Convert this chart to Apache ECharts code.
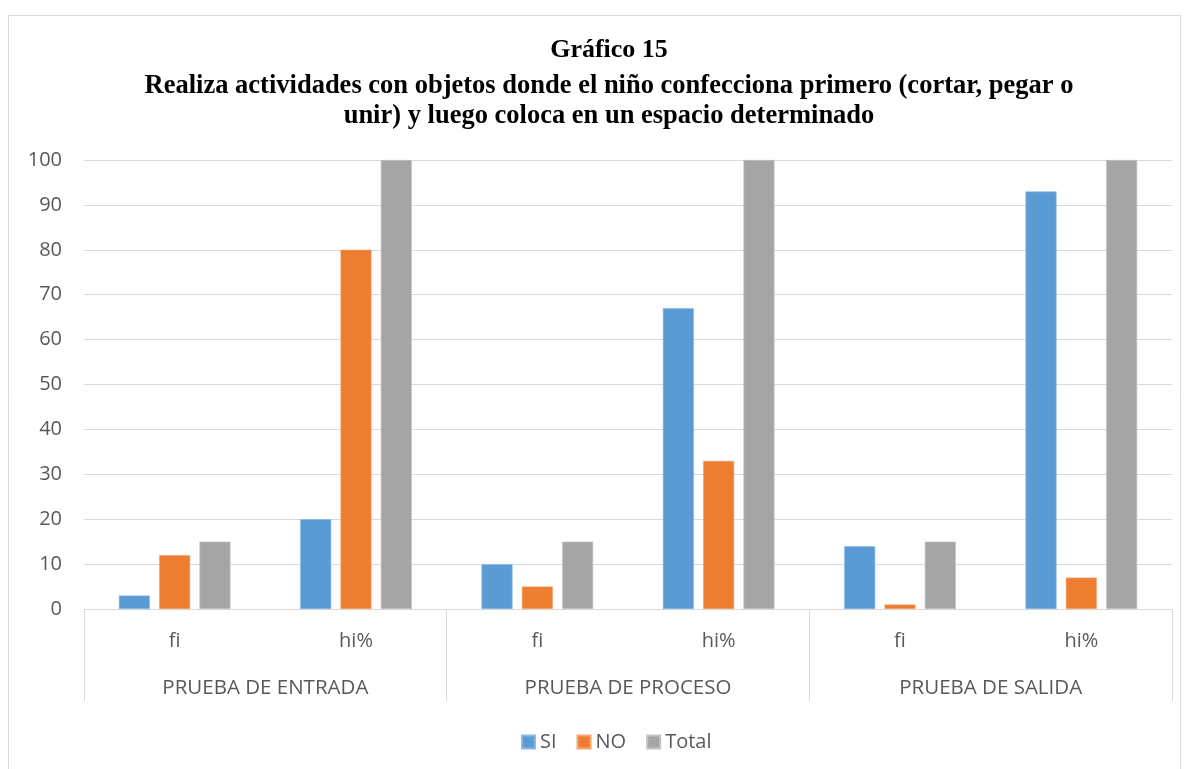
<!DOCTYPE html>
<html>
<head>
<meta charset="utf-8">
<script src="https://cdn.jsdelivr.net/npm/echarts@6/dist/echarts.min.js"></script>
<style>
  html, body { margin: 0; padding: 0; background: #fff; }
  #chart { width: 1189px; height: 769px; }
</style>
</head>
<body>
<div id="chart"></div>
<script>
// categories
var innerLabels = ['fi', 'hi%', 'fi', 'hi%', 'fi', 'hi%'];
var groupLabels = ['PRUEBA DE ENTRADA', 'PRUEBA DE PROCESO', 'PRUEBA DE SALIDA'];
// series values
var siData = [3, 20, 10, 67, 14, 93];
var noData = [12, 80, 5, 33, 1, 7];
var totalData = [15, 100, 15, 100, 15, 100];

var labelFont = '"Open Sans", sans-serif';
var titleFont = '"Liberation Serif", serif';

var myChart = echarts.init(document.getElementById('chart'));
var option = {
  backgroundColor: '#fff',
  animation: false,
  graphic: [{
    type: 'rect',
    shape: { x: 8.5, y: 15.5, width: 1172, height: 760 },
    style: { fill: 'none', stroke: '#d9d9d9', lineWidth: 1 },
    silent: true
  }],
  title: {
    text: 'Gráfico 15',
    subtext: 'Realiza actividades con objetos donde el niño confecciona primero (cortar, pegar o\nunir) y luego coloca en un espacio determinado',
    left: 604,
    textAlign: 'center',
    top: 30,
    itemGap: 6,
    textStyle: {
      fontFamily: titleFont,
      fontWeight: 'bold',
      fontSize: 26,
      lineHeight: 30,
      color: '#000'
    },
    subtextStyle: {
      fontFamily: titleFont,
      fontWeight: 'bold',
      fontSize: 26.5,
      lineHeight: 30,
      color: '#000'
    }
  },
  legend: {
    data: ['SI', 'NO', 'Total'],
    top: 727,
    left: 516,
    itemWidth: 13,
    itemHeight: 13,
    itemGap: 20,
    icon: 'rect',
    textStyle: { fontFamily: labelFont, fontSize: 20, color: '#595959' }
  },
  grid: { left: 84, right: 17, top: 160, bottom: 160 },
  xAxis: [{
    type: 'category',
    data: innerLabels,
    axisLine: { lineStyle: { color: '#d9d9d9', width: 1 } },
    axisTick: { show: false },
    axisLabel: { margin: 22, fontFamily: labelFont, fontSize: 20, color: '#595959' }
  }, {
    type: 'category',
    position: 'bottom',
    data: groupLabels,
    axisLine: { show: false },
    axisTick: { show: true, length: 92, interval: 0, lineStyle: { color: '#d9d9d9' } },
    axisLabel: { margin: 69, fontFamily: labelFont, fontSize: 20.5, color: '#595959' }
  }],
  yAxis: {
    type: 'value',
    min: 0,
    max: 100,
    interval: 10,
    axisLine: { show: false },
    axisTick: { show: false },
    splitLine: { lineStyle: { color: '#d9d9d9', width: 1 } },
    axisLabel: { margin: 22, fontFamily: labelFont, fontSize: 20, color: '#595959' }
  },
  series: [{
    name: 'SI',
    type: 'bar',
    barWidth: 31,
    barGap: '30%',
    itemStyle: { color: '#5b9bd5', borderColor: '#8ab8e3', borderWidth: 0.6 },
    data: siData
  }, {
    name: 'NO',
    type: 'bar',
    barWidth: 31,
    barGap: '30%',
    itemStyle: { color: '#ed7d31', borderColor: '#f3a46f', borderWidth: 0.6 },
    data: noData
  }, {
    name: 'Total',
    type: 'bar',
    barWidth: 31,
    barGap: '30%',
    itemStyle: { color: '#a5a5a5', borderColor: '#c3c3c3', borderWidth: 0.6 },
    data: totalData
  }]
};
myChart.setOption(option);
</script>
</body>
</html>
